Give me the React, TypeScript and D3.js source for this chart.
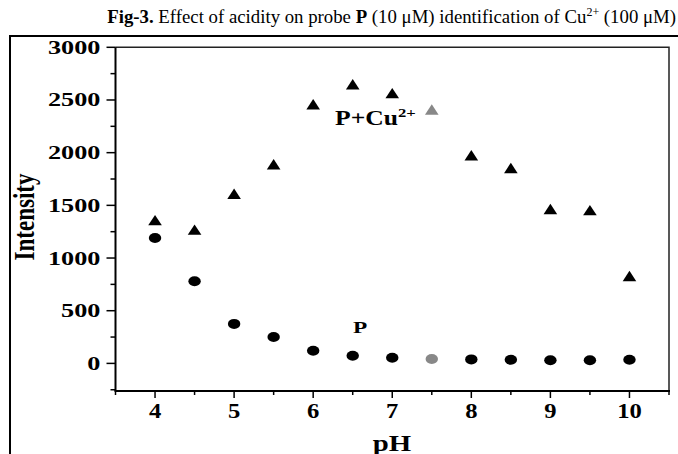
import React from "react";
import * as d3 from "d3";

const phValues = [4, 4.5, 5, 5.5, 6, 6.5, 7, 7.5, 8, 8.5, 9, 9.5, 10];
const pCuValues = [1360, 1270, 1610, 1890, 2460, 2650, 2565, 2410, 1975, 1855, 1465, 1455, 830];
const pValues = [1190, 780, 375, 250, 120, 72, 53, 42, 38, 35, 30, 30, 35];
const greyPh = 7.5;
const xTicks = [4, 5, 6, 7, 8, 9, 10];
const xMinor = [3.5, 4.5, 5.5, 6.5, 7.5, 8.5, 9.5, 10.5];
const yTicks = [0, 500, 1000, 1500, 2000, 2500, 3000];
const yMinor = [-250, 250, 750, 1250, 1750, 2250, 2750];

const W = 678, H = 454;
const left = 115.5, right = 669, top = 47.3, bottom = 391;
const FONT = "'Liberation Serif', 'Times New Roman', serif";

export default function App() {
  const x = d3.scaleLinear().domain([3.5, 10.5]).range([left, right]);
  const y = d3.scaleLinear().domain([-262, 3000]).range([bottom, top]);
  const tri = (cx: number, cy: number) => {
    const w = 6.8, h = 5.2;
    return `M${cx - w},${cy + h}L${cx + w},${cy + h}L${cx},${cy - h}Z`;
  };
  return (
    <svg width={W} height={H} style={{ position: "absolute", left: 0, top: 0 }} fontFamily={FONT}>
      <rect width={W} height={H} fill="#fff" />
      {/* title */}
      <text x={676} y={23} fontSize={18.8} textAnchor="end" fill="#000">
        <tspan fontWeight="bold">Fig-3.</tspan>
        <tspan> Effect of acidity on probe </tspan>
        <tspan fontWeight="bold">P</tspan>
        <tspan> (10 μM) identification of Cu</tspan>
        <tspan fontSize={12} dy={-7}>2+</tspan>
        <tspan dy={7}> (100 μM)</tspan>
      </text>
      {/* outer frame */}
      <path d={`M10,${H + 5}V36H${W + 5}`} fill="none" stroke="#000" strokeWidth={2} />
      {/* plot box */}
      <path d={`M${left},${top}H${right}V${bottom}`} fill="none" stroke="#222" strokeWidth={1.5} />
      <line x1={left} x2={left} y1={top} y2={bottom} stroke="#000" strokeWidth={2} />
      <line x1={left - 1} x2={right + 1} y1={bottom} y2={bottom} stroke="#000" strokeWidth={2} />
      {/* y ticks */}
      {yTicks.map((t) => (
        <g key={"y" + t}>
          <line x1={left - 9} x2={left} y1={y(t)} y2={y(t)} stroke="#000" strokeWidth={1.5} />
          <text transform={`translate(${left - 15},${y(t) + 6.5}) scale(1.42,1)`} textAnchor="end" fontSize={18.5} fontWeight="bold">
            {t}
          </text>
        </g>
      ))}
      {yMinor.map((t) => (
        <line key={"ym" + t} x1={left - 5} x2={left} y1={y(t)} y2={y(t)} stroke="#000" strokeWidth={1.5} />
      ))}
      {/* x ticks */}
      {xTicks.map((t) => (
        <g key={"x" + t}>
          <line x1={x(t)} x2={x(t)} y1={bottom} y2={bottom + 7} stroke="#000" strokeWidth={1.5} />
          <text transform={`translate(${x(t)},${bottom + 27}) scale(1.12,1)`} textAnchor="middle" fontSize={22} fontWeight="bold">
            {t}
          </text>
        </g>
      ))}
      {xMinor.map((t) => (
        <line key={"xm" + t} x1={x(t)} x2={x(t)} y1={bottom} y2={bottom + 4} stroke="#000" strokeWidth={1.5} />
      ))}
      {/* axis titles */}
      <text transform={`translate(34,217) rotate(-90) scale(1,1.25)`} textAnchor="middle" fontSize={23} fontWeight="bold">
        Intensity
      </text>
      <text transform={`translate(392,451) scale(1.2,1)`} textAnchor="middle" fontSize={24} fontWeight="bold">
        pH
      </text>
      {/* markers */}
      {phValues.map((ph, i) => (
        <path key={"t" + ph} d={tri(x(ph), y(pCuValues[i]))} fill={ph === greyPh ? "#888" : "#000"} />
      ))}
      {phValues.map((ph, i) => (
        <ellipse key={"c" + ph} cx={x(ph)} cy={y(pValues[i])} rx={6.2} ry={5} fill={ph === greyPh ? "#888" : "#000"} />
      ))}
      {/* series labels */}
      <text transform={`translate(335,125) scale(1.28,1)`} fontSize={20} fontWeight="bold">
        P+Cu<tspan fontSize={13} dy={-8}>2+</tspan>
      </text>
      <text transform={`translate(353,333) scale(1.37,1)`} fontSize={17} fontWeight="bold">
        P
      </text>
    </svg>
  );
}
